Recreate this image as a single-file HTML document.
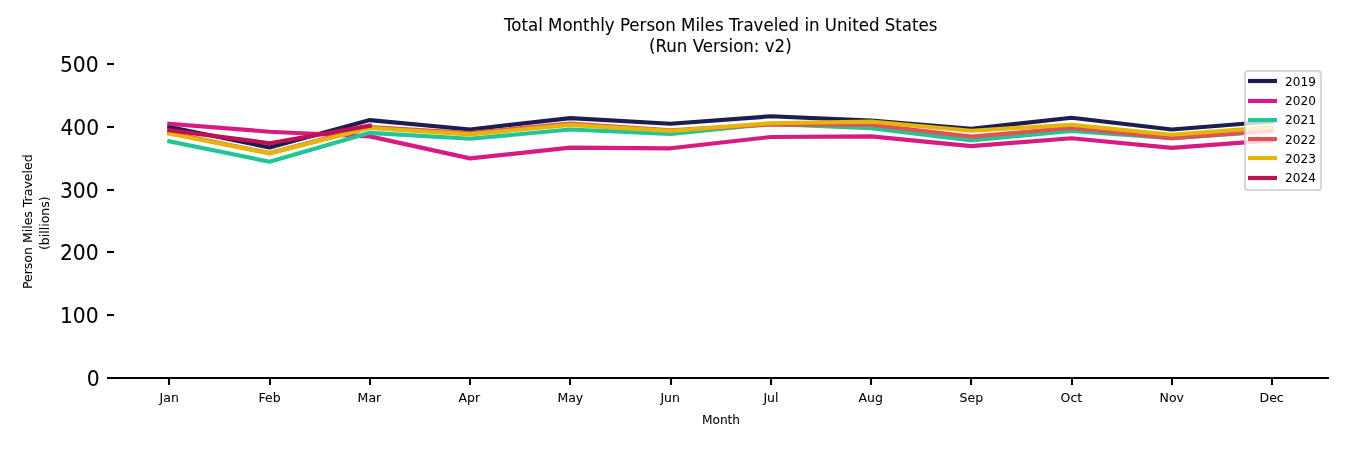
<!DOCTYPE html>
<html lang="en">
<head>
<meta charset="utf-8">
<title>Total Monthly Person Miles Traveled in United States</title>
<style>html,body{margin:0;padding:0;background:#fff;overflow:hidden}body{width:1350px;height:450px}</style>
</head>
<body>
<svg width="1350" height="450" viewBox="0 0 1350 450" style="display:block;font-family:'DejaVu Sans', 'Liberation Sans', sans-serif">
<rect width="1350" height="450" fill="#ffffff"/>
<g fill="none" stroke-width="4.17" stroke-linecap="square" stroke-linejoin="round">
<polyline points="169.30,126.96 269.55,147.48 369.80,120.06 470.05,129.47 570.30,118.17 670.55,123.76 770.81,116.29 871.06,120.68 971.31,128.84 1071.56,117.80 1171.81,129.47 1272.06,121.50" stroke="#1d1e4f"/>
<polyline points="169.30,123.88 269.55,131.73 369.80,136.37 470.05,158.34 570.30,147.67 670.55,148.30 770.81,137.00 871.06,136.37 971.31,146.10 1071.56,138.26 1171.81,147.92 1272.06,140.45" stroke="#d61c84"/>
<polyline points="169.30,141.39 269.55,161.73 369.80,132.80 470.05,138.76 570.30,129.47 670.55,133.93 770.81,123.82 871.06,128.22 971.31,140.33 1071.56,130.85 1171.81,138.26 1272.06,131.04" stroke="#23c497"/>
<polyline points="169.30,132.86 269.55,153.13 369.80,126.96 470.05,133.05 570.30,123.51 670.55,130.41 770.81,124.45 871.06,124.76 971.31,136.69 1071.56,127.90 1171.81,138.26 1272.06,130.73" stroke="#de5356"/>
<polyline points="169.30,133.68 269.55,153.38 369.80,127.96 470.05,134.30 570.30,124.89 670.55,130.85 770.81,123.26 871.06,121.69 971.31,130.73 1071.56,124.76 1171.81,134.74 1272.06,127.09" stroke="#e6b50a"/>
<polyline points="169.30,130.16 269.55,143.21 369.80,125.70" stroke="#bf1050"/>
</g>
<g stroke="#000000" stroke-width="2.08">
<line x1="113" y1="378" x2="1329" y2="378"/>
<line x1="107" y1="378" x2="114" y2="378"/>
<line x1="107" y1="315" x2="114" y2="315"/>
<line x1="107" y1="252" x2="114" y2="252"/>
<line x1="107" y1="190" x2="114" y2="190"/>
<line x1="107" y1="127" x2="114" y2="127"/>
<line x1="107" y1="64" x2="114" y2="64"/>
<line x1="169" y1="378" x2="169" y2="385"/>
<line x1="270" y1="378" x2="270" y2="385"/>
<line x1="370" y1="378" x2="370" y2="385"/>
<line x1="470" y1="378" x2="470" y2="385"/>
<line x1="570" y1="378" x2="570" y2="385"/>
<line x1="671" y1="378" x2="671" y2="385"/>
<line x1="771" y1="378" x2="771" y2="385"/>
<line x1="871" y1="378" x2="871" y2="385"/>
<line x1="971" y1="378" x2="971" y2="385"/>
<line x1="1072" y1="378" x2="1072" y2="385"/>
<line x1="1172" y1="378" x2="1172" y2="385"/>
<line x1="1272" y1="378" x2="1272" y2="385"/>
</g>
<g font-size="20.83" text-anchor="end" fill="#000000" stroke="#000000" stroke-width="0.06">
<text transform="translate(99.60,385.80) scale(0.975,1)">0</text>
<text transform="translate(98.70,323.04) scale(0.975,1)">100</text>
<text transform="translate(98.70,260.28) scale(0.975,1)">200</text>
<text transform="translate(98.70,197.52) scale(0.975,1)">300</text>
<text transform="translate(99.20,134.76) scale(0.975,1)">400</text>
<text transform="translate(98.70,72.00) scale(0.975,1)">500</text>
</g>
<g font-size="12.5" text-anchor="middle" fill="#000000" stroke="#000000" stroke-width="0.06">
<text x="169.20" y="402.0">Jan</text>
<text x="269.55" y="402.0">Feb</text>
<text x="369.40" y="402.0">Mar</text>
<text x="469.25" y="402.0">Apr</text>
<text x="570.30" y="402.0">May</text>
<text x="670.15" y="402.0">Jun</text>
<text x="770.96" y="402.0">Jul</text>
<text x="870.66" y="402.0">Aug</text>
<text x="971.31" y="402.0">Sep</text>
<text x="1071.36" y="402.0">Oct</text>
<text x="1171.81" y="402.0">Nov</text>
<text x="1271.66" y="402.0">Dec</text>
<text transform="translate(721.0,423.6) scale(0.975,1)">Month</text>
<text transform="translate(32.2,221.75) rotate(-90)">Person Miles Traveled</text>
<text transform="translate(48.6,223.2) rotate(-90)">(billions)</text>
</g>
<g font-size="16.67" text-anchor="middle" fill="#000000" stroke="#000000" stroke-width="0.06">
<text transform="translate(720.7,30.7) scale(0.998,1.04)">Total Monthly Person Miles Traveled in United States</text>
<text transform="translate(720.35,51.6) scale(0.998,1.04)">(Run Version: v2)</text>
</g>
<rect x="1245.0" y="71.0" width="76.0" height="119.0" rx="2.6" ry="2.6" fill="#ffffff" fill-opacity="0.8" stroke="#cccccc" stroke-opacity="0.8" stroke-width="2.08"/>
<g stroke-width="4.17" stroke-linecap="square">
<line x1="1250.1" y1="81" x2="1274.9" y2="81" stroke="#1d1e4f"/>
<line x1="1250.1" y1="101" x2="1274.9" y2="101" stroke="#d61c84"/>
<line x1="1250.1" y1="120" x2="1274.9" y2="120" stroke="#23c497"/>
<line x1="1250.1" y1="139" x2="1274.9" y2="139" stroke="#de5356"/>
<line x1="1250.1" y1="158" x2="1274.9" y2="158" stroke="#e6b50a"/>
<line x1="1250.1" y1="178" x2="1274.9" y2="178" stroke="#bf1050"/>
</g>
<g font-size="12.5" fill="#000000" stroke="#000000" stroke-width="0.06">
<text transform="translate(1285.1,86) scale(0.967,1)">2019</text>
<text transform="translate(1285.1,105) scale(0.967,1)">2020</text>
<text transform="translate(1285.1,124) scale(0.967,1)">2021</text>
<text transform="translate(1285.1,144) scale(0.967,1)">2022</text>
<text transform="translate(1285.1,163) scale(0.967,1)">2023</text>
<text transform="translate(1285.1,182) scale(0.967,1)">2024</text>
</g>
</svg>
</body>
</html>
